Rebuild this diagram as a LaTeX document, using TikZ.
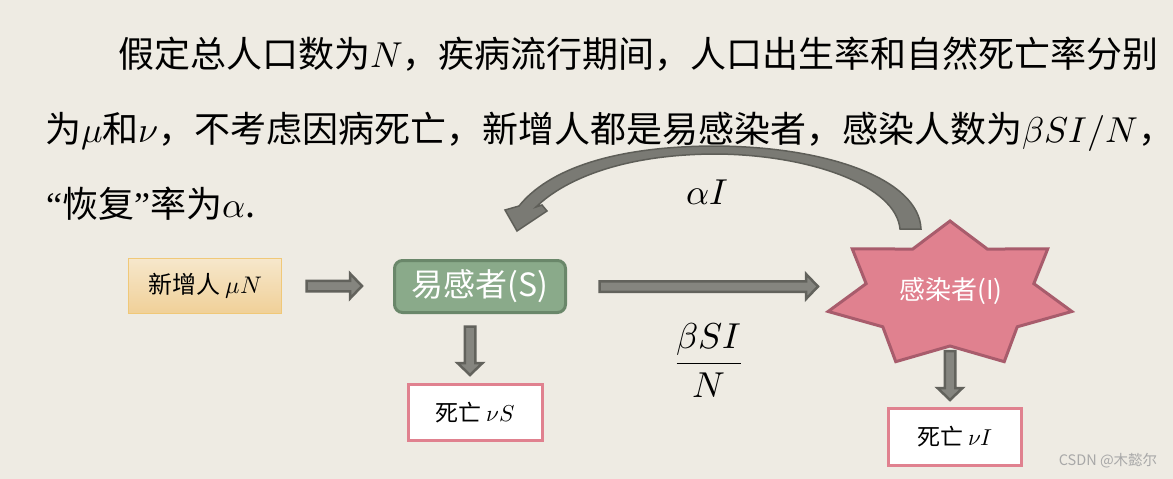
\documentclass[tikz,border=0pt]{standalone}
\usepackage{fontspec}
\usepackage{unicode-math}
\setmainfont{Noto Sans CJK SC}
\newfontfamily\quotefont{Liberation Serif}
\setmathfont{Latin Modern Math}
\usetikzlibrary{calc}
\definecolor{bg}{HTML}{EEEBE3}
\definecolor{arrowfill}{HTML}{85857F}
\definecolor{arrowdraw}{HTML}{62625C}
\definecolor{curvefill}{HTML}{7A7A74}
\definecolor{curvedraw}{HTML}{5E5E58}
\definecolor{orangetop}{HTML}{F6E7CB}
\definecolor{orangebot}{HTML}{F0D098}
\definecolor{orangedraw}{HTML}{F0C878}
\definecolor{sgreen}{HTML}{8AAA8A}
\definecolor{sgreendraw}{HTML}{6A876A}
\definecolor{pinkfill}{HTML}{E0818F}
\definecolor{pinkdraw}{HTML}{A85C6C}
\definecolor{wmgray}{HTML}{A8A8A8}
\tikzset{
  body/.style={anchor=base west, inner sep=0pt, font=\fontsize{36}{40}\selectfont},
  blockbase/.style={fill=arrowfill, draw=arrowdraw, line width=2.5pt, line join=miter},
  harrow/.style={blockbase, to path={let \p1=(\tikztostart), \p2=(\tikztotarget) in
    (\x1,\y1+5.25pt) -- (\x2-12pt,\y1+5.25pt) -- (\x2-12pt,\y1+12.5pt) -- (\x2,\y1)
    -- (\x2-12pt,\y1-12.5pt) -- (\x2-12pt,\y1-5.25pt) -- (\x1,\y1-5.25pt) -- cycle}},
  varrow/.style={blockbase, to path={let \p1=(\tikztostart), \p2=(\tikztotarget) in
    (\x1-5.25pt,\y1) -- (\x1-5.25pt,\y2+12pt) -- (\x1-12.5pt,\y2+12pt) -- (\x1,\y2)
    -- (\x1+12.5pt,\y2+12pt) -- (\x1+5.25pt,\y2+12pt) -- (\x1+5.25pt,\y1) -- cycle}},
  newbox/.style={draw=orangedraw, line width=1pt, top color=orangetop, bottom color=orangebot,
    minimum width=153pt, minimum height=55pt, inner sep=0pt, font=\fontsize{24}{26}\selectfont},
  sbox/.style={draw=sgreendraw, fill=sgreen, line width=3pt, rounded corners=8pt,
    minimum width=171pt, minimum height=52pt, inner sep=0pt, text=white,
    font=\fontsize{32}{34}\selectfont},
  deathbox/.style={draw=pinkfill, fill=white, line width=3pt,
    minimum width=134pt, minimum height=56pt, inner sep=0pt, font=\fontsize{23}{25}\selectfont},
  starshape/.style={fill=pinkfill, draw=pinkdraw, line width=3pt, line join=miter},
  curvearrow/.style={fill=curvefill, draw=curvedraw, line width=1.5pt, line join=miter},
  mathlabel/.style={inner sep=0pt, font=\fontsize{36}{40}\selectfont},
}
\begin{document}
\begin{tikzpicture}[x=1pt,y=-1pt]
\useasboundingbox (0,0) rectangle (1173,479);
\fill[bg] (0,0) rectangle (1173,479);

% paragraph
\node[body] (l1) at (118,67) {假定总人口数为$N$，疾病流行期间，人口出生率和自然死亡率分别};
\node[body] (l2) at (45,142) {为$\mu$和$\nu$，不考虑因病死亡，新增人都是易感染者，感染人数为$\beta SI/N$，};
\node[body] (l3) at (46,217) {{\quotefont “}恢复{\quotefont ”}率为$\alpha$.};

% curved recovery arrow
\draw[curvearrow] (921,229) .. controls (919,180) and (830,147) .. (717,146)
  .. controls (612,146) and (548,170) .. (519,206)
  -- (505,210) -- (517,231) -- (547,211) -- (542,205) -- (536,207)
  .. controls (566,178) and (626,154) .. (717,154)
  .. controls (812,155) and (896,186) .. (900,229) -- cycle;
\node[mathlabel] (rec) at (707,192) {$\alpha I$};

% star for infected
\draw[starshape, shift={(950,295)}] (90:125pt and 74pt)
  \foreach \k in {0,...,5}{ -- ({90+(\k+0.5)*360/7}:86pt and 51pt) -- ({90+(\k+1)*360/7}:125pt and 74pt)}
  -- ({90+6.5*360/7}:86pt and 51pt) -- cycle;
\node[inner sep=0pt, text=white, font=\fontsize{26}{28}\selectfont] (I) at (951,291) {感染者(I)};

% boxes
\node[newbox] (new) at (205,286) {新增人 $\mu N$};
\node[sbox] (S) at (480,286.5) {易感者(S)};
\node[deathbox] (dS) at (475.5,412.5) {死亡 $\nu S$};
\node[deathbox, minimum height=57pt, minimum width=133pt] (dI) at (955,437) {死亡 $\nu I$};

% block arrows
\draw[harrow] ([xshift=24.5pt]new.east) to ([xshift=-31pt]S.west);
\draw[harrow] ([xshift=32.5pt]S.east) to ([xshift=-133pt]I.center);
\draw[varrow] ([xshift=-10pt,yshift=-12.5pt]S.south) to ([yshift=8pt]dS.north);
\draw[varrow] ([xshift=-1pt,yshift=-60pt]I.center) to ([yshift=7pt]dI.north);

% rate label
\node[mathlabel] (rate) at (709,360) {$\dfrac{\beta SI}{N}$};

% watermark
\node[inner sep=0pt, text=wmgray, font=\fontsize{14.5}{16}\selectfont] (wm) at (1108,461) {CSDN @木懿尔};
\end{tikzpicture}
\end{document}
